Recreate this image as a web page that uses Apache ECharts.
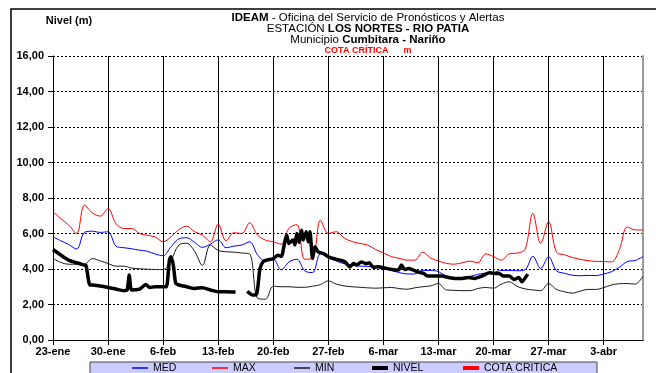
<!DOCTYPE html>
<html>
<head>
<meta charset="utf-8">
<script src="https://cdn.jsdelivr.net/npm/echarts@6/dist/echarts.min.js"></script>
<style>
html,body{margin:0;padding:0;background:#fff;}
#chart{width:656px;height:373px;}
</style>
</head>
<body>
<div id="chart"></div>
<script>
// Tick labels (every 7 days from 23-ene)
const xTickLabels = ['23-ene','30-ene','6-feb','13-feb','20-feb','27-feb','6-mar','13-mar','20-mar','27-mar','3-abr'];
const seriesNames = ['MED','MAX','MIN','NIVEL','COTA CRITICA'];

// Daily values, day 0 = 23-ene ... day 75
const medValues = [5.81,5.59,5.38,5.12,6.06,6.13,6.06,6.1,5.29,5.2,5.14,5.06,5.0,4.84,4.75,5.25,5.7,5.76,5.5,5.22,5.4,5.64,5.2,5.29,5.35,5.53,4.8,4.45,4.55,3.95,4.4,4.55,3.9,3.8,4.85,4.65,4.45,4.3,4.22,4.16,4.15,4.1,4.02,3.92,3.8,3.72,3.72,3.92,3.92,3.85,3.6,3.52,3.52,3.58,3.7,3.77,3.8,3.92,3.92,3.9,3.95,4.72,4.03,4.69,3.9,3.76,3.65,3.62,3.64,3.63,3.72,3.85,4.1,4.42,4.48,4.7];
const maxValues = [7.22,6.84,6.47,6.0,7.6,7.16,6.98,7.4,6.56,6.28,6.28,6.0,5.9,5.8,5.53,5.81,6.22,6.41,6.1,5.91,5.53,6.53,5.59,6.04,6.0,6.6,5.91,5.63,5.53,5.4,6.3,6.5,4.55,4.6,6.75,6.0,6.1,5.75,5.55,5.44,5.35,5.1,4.9,4.7,4.6,4.5,4.5,4.95,4.62,4.45,4.32,4.27,4.35,4.44,4.35,4.85,4.7,4.5,4.85,4.9,5.1,7.13,5.44,6.66,4.95,4.8,4.65,4.55,4.47,4.43,4.42,4.4,5.1,6.37,6.2,6.2];
const minValues = [4.59,4.37,4.27,4.27,4.27,4.59,4.46,4.31,4.16,4.16,4.05,4.01,3.99,3.97,3.97,4.5,5.35,5.45,5.0,4.2,5.35,5.05,4.97,4.95,4.9,4.85,2.35,2.3,3.03,3.0,3.0,2.97,2.97,3.03,3.12,3.33,3.15,3.05,3.0,2.97,2.94,2.92,2.94,2.96,2.9,2.86,2.94,3.0,3.05,3.18,2.82,2.8,2.78,2.78,2.9,2.96,2.92,3.15,3.28,3.02,2.88,2.82,2.78,3.18,2.85,2.72,2.64,2.75,2.85,2.85,2.95,3.1,3.17,3.18,3.15,3.6];

// NIVEL readings (days since 23-ene, irregular), '-' = no data
const nivelDays = [0,1,2,3,4,4.2,4.7,5,6,7,8,9,9.4,9.7,10.0,11,11.8,12.3,13,14,14.4,14.8,15.0,15.3,15.6,16,17,18,19,20,21,22,23.2,24.0,24.7,25.4,25.9,26.3,26.7,27.15,28,28.6,29.05,29.3,29.7,30.0,30.5,30.75,31,31.3,31.6,31.8,32.2,32.45,32.66,33,33.3,33.7,34.4,35,35.6,36.5,37.1,37.75,38.2,38.6,39.2,39.8,40.2,40.7,41.4,42,43.1,43.9,44.3,44.7,45.2,45.8,46.4,47.1,47.7,48.6,49.4,50.3,51.1,52,52.8,53.65,54,54.8,55.45,56,56.7,57.3,58,58.6,59.2,59.6,60.06,60.35];
const nivelValues = [5.1,4.78,4.5,4.35,4.22,4.2,3.1,3.1,3.04,2.96,2.87,2.78,2.8,3.66,2.82,2.87,3.12,2.96,3.0,3.0,3.0,4.5,4.69,4.2,3.2,3.1,3.0,2.9,2.95,2.82,2.72,2.72,2.7,'-',2.75,2.53,2.6,4.0,4.41,4.5,4.59,4.78,4.72,5.16,5.91,5.44,5.63,5.35,6.0,5.5,6.19,5.63,6.1,5.53,6.1,4.59,5.25,4.97,4.87,4.69,4.59,4.5,4.41,4.12,4.31,4.22,4.4,4.3,4.35,4.1,4.12,4.07,3.97,3.94,4.22,3.97,4.03,3.94,3.84,3.75,3.6,3.6,3.6,3.52,3.47,3.47,3.52,3.47,3.52,3.66,3.79,3.75,3.75,3.6,3.6,3.41,3.52,3.28,3.52,3.71];

// Legend item placement (left edge of each legend entry)
const legendLefts = [132, 212, 294, 372, 463];
const legendIconHeights = [1.5, 1.5, 1.5, 4, 4];

const FONT = 'Liberation Sans, Arial, sans-serif';
const toPairs = vals => vals.map((v, i) => [i, v]);
const nivelData = nivelDays.map((d, i) => [d, nivelValues[i]]);

const legends = seriesNames.map((name, i) => ({
  left: legendLefts[i], top: 362, padding: 0, itemWidth: 16, itemHeight: legendIconHeights[i],
  icon: 'rect', selectedMode: false, z: 10,
  textStyle: {color: '#000', fontSize: 10.5, fontFamily: FONT, lineHeight: 12},
  data: [name]
}));

const bold = {b: {fontWeight: 'bold', fontSize: 11.5, fontFamily: FONT, fill: '#000'}};

const chart = echarts.init(document.getElementById('chart'), null, {renderer: 'canvas'});
chart.setOption({
  animation: false,
  backgroundColor: '#fff',
  textStyle: {fontFamily: FONT},
  grid: {left: 53, right: 13, top: 56, bottom: 33, outerBoundsMode: 'none'},
  xAxis: {
    type: 'value', min: 0, max: 75, interval: 7,
    axisLine: {show: true, onZero: false, lineStyle: {color: '#000', width: 1}},
    axisTick: {show: true, inside: false, length: 5, lineStyle: {color: '#000'}},
    axisLabel: {
      color: '#000', fontWeight: 'bold', fontSize: 11, fontFamily: FONT, margin: 6,
      showMaxLabel: false,
      formatter: v => (v % 7 === 0 && xTickLabels[v / 7] !== undefined) ? xTickLabels[v / 7] : ''
    },
    splitLine: {show: true, lineStyle: {color: '#000', width: 1, type: 'solid'}}
  },
  yAxis: [{
    type: 'value', min: 0, max: 16, interval: 2,
    axisLine: {show: true, lineStyle: {color: '#000', width: 1}},
    axisTick: {show: true, inside: false, length: 5, lineStyle: {color: '#000'}},
    axisLabel: {
      color: '#000', fontWeight: 'bold', fontSize: 11, fontFamily: FONT, margin: 9,
      formatter: v => v.toFixed(2).replace('.', ',')
    },
    splitLine: {show: true, lineStyle: {color: '#000', width: 1, type: [2, 2]}}
  }, {
    type: 'value', min: 0, max: 16, interval: 2, position: 'right',
    axisLine: {show: true, lineStyle: {color: '#9a9a9a', width: 2}},
    axisTick: {show: false}, axisLabel: {show: false}, splitLine: {show: false}
  }],
  legend: legends,
  graphic: [
    {type: 'rect', z: -10, silent: true, shape: {x: 11, y: 9, width: 700, height: 420},
      style: {fill: 'none', stroke: '#000', lineWidth: 1.5}},
    {type: 'rect', z: 1, silent: true, shape: {x: 90, y: 362, width: 507, height: 30},
      style: {fill: '#ccccff', stroke: '#444', lineWidth: 1}},
    {type: 'text', silent: true, x: 69, y: 21, style: {text: 'Nivel (m)', align: 'center', verticalAlign: 'middle',
      font: 'bold 11px ' + FONT, fill: '#000'}},
    {type: 'text', silent: true, x: 368, y: 17.5, style: {
      text: '{b|IDEAM} - Oficina del Servicio de Pronósticos y Alertas', align: 'center', verticalAlign: 'middle',
      font: '11.5px ' + FONT, fill: '#000', rich: bold}},
    {type: 'text', silent: true, x: 368, y: 29, style: {
      text: 'ESTACIÓN {b|LOS NORTES - RIO PATIA}', align: 'center', verticalAlign: 'middle',
      font: '11.5px ' + FONT, fill: '#000', rich: bold}},
    {type: 'text', silent: true, x: 368, y: 40, style: {
      text: 'Municipio {b|Cumbitara - Nariño}', align: 'center', verticalAlign: 'middle',
      font: '11.5px ' + FONT, fill: '#000', rich: bold}},
    {type: 'text', silent: true, x: 368, y: 50.5, style: {
      text: 'COTA CRÍTICA      m', align: 'center', verticalAlign: 'middle',
      font: 'bold 9px ' + FONT, fill: '#ff0000'}}
  ],
  series: [
    {name: 'MED', type: 'line', data: toPairs(medValues), symbol: 'none', smooth: 0.35, z: 3,
      lineStyle: {color: '#0000ff', width: 1}, itemStyle: {color: '#0000ff'}},
    {name: 'MAX', type: 'line', data: toPairs(maxValues), symbol: 'none', smooth: 0.35, z: 3,
      lineStyle: {color: '#ff0000', width: 1}, itemStyle: {color: '#ff0000'}},
    {name: 'MIN', type: 'line', data: toPairs(minValues), symbol: 'none', smooth: 0.35, z: 3,
      lineStyle: {color: '#1a1a1a', width: 1}, itemStyle: {color: '#1a1a1a'}},
    {name: 'NIVEL', type: 'line', data: nivelData, symbol: 'none', smooth: 0.25, connectNulls: false, z: 4,
      lineStyle: {color: '#000', width: 3.5}, itemStyle: {color: '#000'}},
    {name: 'COTA CRITICA', type: 'line', data: [], symbol: 'none',
      lineStyle: {color: '#ff0000', width: 4}, itemStyle: {color: '#ff0000'}}
  ]
});
</script>
</body>
</html>
